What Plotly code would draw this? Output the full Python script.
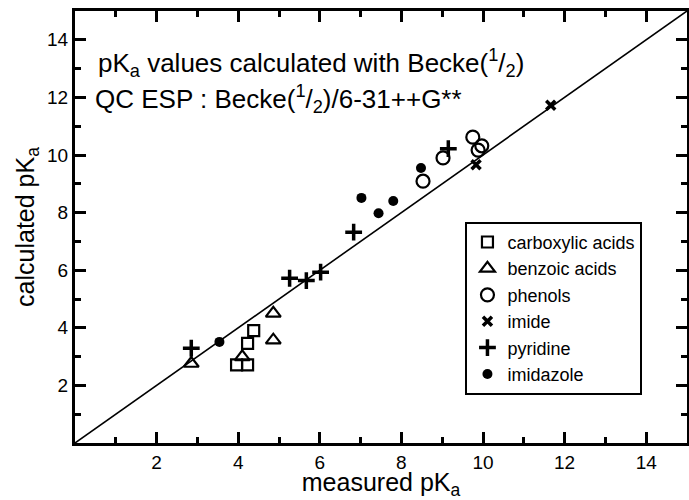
import plotly.graph_objects as go

# data (measured pKa, calculated pKa)
carb_x = [3.96, 4.23, 4.23, 4.38]
carb_y = [2.71, 2.71, 3.46, 3.90]
benz_x = [2.85, 4.10, 4.86, 4.86]
benz_y = [2.76, 2.99, 4.50, 3.57]
phen_x = [9.75, 9.88, 9.97, 9.02, 8.53]
phen_y = [10.62, 10.17, 10.32, 9.90, 9.09]
imide_x = [11.66, 9.83]
imide_y = [11.73, 9.66]
pyr_x = [2.85, 5.26, 5.67, 6.02, 6.83, 9.15]
pyr_y = [3.29, 5.72, 5.64, 5.93, 7.32, 10.22]
imid_x = [3.54, 7.02, 7.44, 7.80, 8.48]
imid_y = [3.51, 8.51, 7.98, 8.40, 9.55]
diag = [0, 15]

major_ticks = [2, 4, 6, 8, 10, 12, 14]
minor_ticks = [1, 3, 5, 7, 9, 11, 13]

FONT = "Liberation Sans, Arial, Helvetica, sans-serif"

fig = go.Figure()
fig.add_trace(go.Scatter(x=diag, y=diag, mode="lines", line=dict(color="black", width=1.6),
                         showlegend=False, hoverinfo="skip"))

series = [
    ("carboxylic acids", carb_x, carb_y, "square-open", 11, 2.2),
    ("benzoic acids", benz_x, benz_y, "triangle-up-open", 13, 2.2),
    ("phenols", phen_x, phen_y, "circle-open", 13, 2.2),
    ("imide", imide_x, imide_y, "x-thin-open", 9, 3.5),
    ("pyridine", pyr_x, pyr_y, "cross-thin-open", 12, 3.5),
    ("imidazole", imid_x, imid_y, "circle", 10, 0),
]
for name, xs, ys, sym, size, lw in series:
    fig.add_trace(go.Scatter(
        x=xs, y=ys, mode="markers", name=name,
        marker=dict(symbol=sym, size=size, color="black",
                    line=dict(color="black", width=lw)),
    ))

axis_common = dict(
    range=[0, 15], showgrid=False, zeroline=False,
    showline=True, linecolor="black", linewidth=3, mirror="allticks",
    ticks="inside", ticklen=11, tickwidth=3, tickcolor="black",
    tickvals=major_ticks, ticktext=[str(v) for v in major_ticks],
    tickfont=dict(family=FONT, size=19, color="black"),
    minor=dict(tickvals=minor_ticks, ticks="inside", ticklen=6, tickwidth=2.5, tickcolor="black"),
)

fig.update_layout(
    width=689, height=500,
    margin=dict(l=75, r=2, t=11, b=57, autoexpand=False),
    paper_bgcolor="white", plot_bgcolor="white",
    font=dict(family=FONT, color="black"),
    xaxis=dict(**axis_common,
               title=dict(text="measured pK<sub>a</sub>", font=dict(family=FONT, size=25), standoff=12)),
    yaxis=dict(**axis_common,
               title=dict(text="calculated pK<sub>a</sub>", font=dict(family=FONT, size=25), standoff=6)),
    legend=dict(x=0.638, y=0.512, xanchor="left", yanchor="top",
                bgcolor="white", bordercolor="black", borderwidth=2,
                font=dict(family=FONT, size=18, color="black"),
                tracegroupgap=0, itemwidth=30),
    showlegend=True,
    annotations=[
        dict(xref="paper", yref="paper", x=0.035, y=0.880, xanchor="left", yanchor="middle",
             text="pK<sub>a</sub> values calculated with Becke(<sup>1</sup>/<sub>2</sub>)",
             showarrow=False, font=dict(family=FONT, size=26, color="black")),
        dict(xref="paper", yref="paper", x=0.030, y=0.796, xanchor="left", yanchor="middle",
             text="QC ESP : Becke(<sup>1</sup>/<sub>2</sub>)/6-31++G**",
             showarrow=False, font=dict(family=FONT, size=26, color="black")),
    ],
)

fig.write_html("out.html")
